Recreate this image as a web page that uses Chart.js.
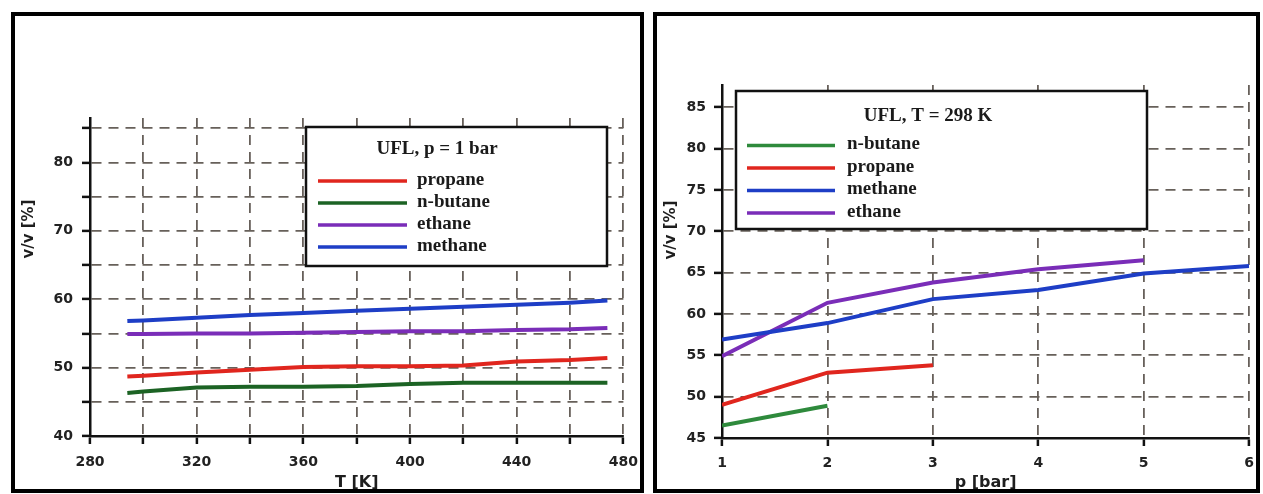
<!DOCTYPE html>
<html>
<head>
<meta charset="utf-8">
<script src="https://cdn.jsdelivr.net/npm/chart.js@4.4.0/dist/chart.umd.min.js"></script>
<style>
  html, body { margin: 0; padding: 0; background: #fff; }
  body { width: 1263px; height: 494px; position: relative; overflow: hidden; }
  canvas { position: absolute; top: 0; }
  #left-chart { left: 0; }
  #right-chart { left: 648px; }
  .frame { position: absolute; top: 12px; height: 481px; border: 4px solid #000; box-sizing: border-box; pointer-events: none; }
</style>
</head>
<body>
<canvas id="left-chart" width="648" height="494"></canvas>
<canvas id="right-chart" width="615" height="494"></canvas>
<div class="frame" style="left:11px;width:633px"></div>
<div class="frame" style="left:653px;width:607px"></div>
<script>
// --- Data: UFL vs temperature (p = 1 bar) ---
const tempK = [294, 300, 320, 340, 360, 380, 400, 420, 440, 460, 474];
const propaneT = [48.7, 48.8, 49.3, 49.7, 50.1, 50.2, 50.2, 50.3, 50.9, 51.1, 51.4];
const nButaneT = [46.3, 46.5, 47.1, 47.2, 47.2, 47.3, 47.6, 47.8, 47.8, 47.8, 47.8];
const ethaneT = [54.9, 54.9, 55.0, 55.0, 55.1, 55.2, 55.3, 55.3, 55.5, 55.6, 55.8];
const methaneT = [56.8, 56.9, 57.3, 57.7, 58.0, 58.3, 58.6, 58.9, 59.2, 59.5, 59.8];

// --- Data: UFL vs pressure (T = 298 K) ---
const pressureBar = [1, 2, 3, 4, 5, 6];
const nButaneP = [46.5, 48.9];
const propaneP = [49.0, 52.9, 53.8];
const methaneP = [56.9, 58.9, 61.8, 62.9, 64.9, 65.8];
const ethaneP = [54.9, 61.35, 63.8, 65.4, 66.5];

const toPoints = (xs, ys) => ys.map((y, i) => ({ x: xs[i], y: y }));

// draws the rotated y title and the boxed legend inside the plot
const panelDecor = {
    id: 'panelDecor',
    afterDraw(chart, args, opts) {
        const ctx = chart.ctx;
        ctx.save();
        ctx.fillStyle = '#1e1e1e';
        ctx.font = 'bold 15px "DejaVu Sans"';
        ctx.textAlign = 'center';
        ctx.textBaseline = 'middle';
        ctx.translate(opts.yTitleX, opts.yTitleY);
        ctx.rotate(-Math.PI / 2);
        ctx.fillText(opts.yTitle, 0, 0);
        ctx.restore();

        const b = opts.box;
        ctx.save();
        ctx.fillStyle = '#fff';
        ctx.fillRect(b.left, b.top, b.right - b.left, b.bottom - b.top);
        ctx.strokeStyle = '#111';
        ctx.lineWidth = 2.5;
        ctx.strokeRect(b.left, b.top, b.right - b.left, b.bottom - b.top);
        ctx.font = 'bold 19px "Liberation Serif"';
        ctx.fillStyle = '#1a1a1a';
        ctx.textAlign = 'center';
        ctx.textBaseline = 'middle';
        ctx.fillText(opts.title, opts.titleX, opts.titleY);
        ctx.textAlign = 'left';
        chart.data.datasets.forEach((ds, i) => {
            const y = opts.rowY + i * opts.rowGap;
            ctx.strokeStyle = ds.borderColor;
            ctx.lineWidth = 3.5;
            ctx.beginPath();
            ctx.moveTo(opts.sampleX0, y);
            ctx.lineTo(opts.sampleX1, y);
            ctx.stroke();
            ctx.fillText(ds.label, opts.textX, y - 1);
        });
        ctx.restore();
    }
};

const tickFont = { family: 'DejaVu Sans', size: 14, weight: 'bold' };
const titleFont = { family: 'DejaVu Sans', size: 16, weight: 'bold' };
const gridStyle = { color: '#67605a', lineWidth: 1.8, tickColor: '#111', tickLength: 8, tickWidth: 2.5 };
const borderStyle = { color: '#111', width: 2.5, dash: [10, 7] };

const lineSet = (label, xs, ys, color) => ({
    label: label,
    data: toPoints(xs, ys),
    borderColor: color,
    borderWidth: 4,
    pointRadius: 0,
    tension: 0,
    fill: false
});

// 1. Temperature chart
new Chart(document.getElementById('left-chart'), {
    type: 'line',
    data: {
        datasets: [
            lineSet('propane', tempK, propaneT, '#e0261e'),
            lineSet('n-butane', tempK, nButaneT, '#1c6324'),
            lineSet('ethane', tempK, ethaneT, '#7a2db8'),
            lineSet('methane', tempK, methaneT, '#1e3ec6')
        ]
    },
    plugins: [panelDecor],
    options: {
        responsive: false,
        animation: false,
        layout: { padding: { left: 0, right: 24, top: 118, bottom: 0 } },
        plugins: {
            legend: { display: false },
            tooltip: { enabled: false },
            panelDecor: {
                yTitle: 'v/v [%]', yTitleX: 29, yTitleY: 229,
                title: 'UFL, p = 1 bar', titleX: 437, titleY: 149,
                box: { left: 306, top: 127, right: 607, bottom: 266 },
                rowY: 181, rowGap: 22, sampleX0: 318, sampleX1: 407, textX: 417
            }
        },
        scales: {
            x: {
                type: 'linear', min: 280, max: 480,
                ticks: { stepSize: 20, font: tickFont, color: '#222', padding: 10, maxRotation: 0,
                         callback: v => (v % 40 === 0 ? v : '') },
                grid: gridStyle, border: borderStyle,
                title: { display: true, text: 'T [K]', font: titleFont, color: '#1e1e1e', padding: { top: 0, bottom: 2 } },
                afterFit: scale => { scale.height = 58; }
            },
            y: {
                min: 40, max: 86.5,
                ticks: { stepSize: 5, includeBounds: false, font: tickFont, color: '#222', padding: 9,
                         callback: v => (v % 10 === 0 ? v : '') },
                grid: gridStyle, border: borderStyle,
                afterFit: scale => { scale.width = 90; }
            }
        }
    }
});

// 2. Pressure chart
new Chart(document.getElementById('right-chart'), {
    type: 'line',
    data: {
        datasets: [
            lineSet('n-butane', pressureBar, nButaneP, '#2e8a3c'),
            lineSet('propane', pressureBar, propaneP, '#e0261e'),
            lineSet('methane', pressureBar, methaneP, '#1e3ec6'),
            lineSet('ethane', pressureBar, ethaneP, '#7a2db8')
        ]
    },
    plugins: [panelDecor],
    options: {
        responsive: false,
        animation: false,
        layout: { padding: { left: 0, right: 10, top: 85, bottom: 0 } },
        plugins: {
            legend: { display: false },
            tooltip: { enabled: false },
            panelDecor: {
                yTitle: 'v/v [%]', yTitleX: 23, yTitleY: 230,
                title: 'UFL, T = 298 K', titleX: 280, titleY: 116,
                box: { left: 88, top: 91, right: 499, bottom: 229 },
                rowY: 145.5, rowGap: 22.5, sampleX0: 99, sampleX1: 187, textX: 199
            }
        },
        scales: {
            x: {
                type: 'linear', min: 1, max: 6,
                ticks: { stepSize: 1, font: tickFont, color: '#222', padding: 9, maxRotation: 0 },
                grid: gridStyle, border: borderStyle,
                title: { display: true, text: 'p [bar]', font: titleFont, color: '#1e1e1e', padding: { top: 0, bottom: 2 } },
                afterFit: scale => { scale.height = 56; }
            },
            y: {
                min: 45, max: 87.7,
                ticks: { stepSize: 5, includeBounds: false, font: tickFont, color: '#222', padding: 8 },
                grid: gridStyle, border: borderStyle,
                afterFit: scale => { scale.width = 74; }
            }
        }
    }
});
</script>
</body>
</html>
